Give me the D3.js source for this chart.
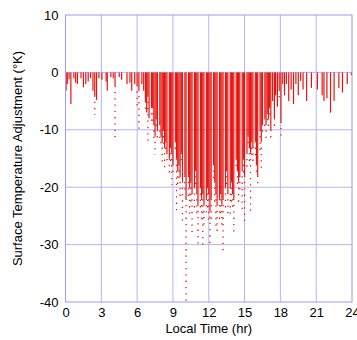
<!DOCTYPE html>
<html>
<head>
<meta charset="utf-8">
<script src="https://cdn.jsdelivr.net/npm/d3@7"></script>
<style>
  body { margin: 0; background: #fff; }
  text { font-family: "Liberation Sans", Arial, sans-serif; }
</style>
</head>
<body>
<svg id="chart" width="357" height="340"></svg>
<script>
// sparse strips before sunrise / after sunset: local time (hr), deepest adjustment (K)
const earlyTime = [0.05, 0.15, 0.3, 0.45, 0.7, 0.85, 1.0, 1.3, 1.5, 1.7, 1.9, 2.1, 2.3, 2.45, 2.6, 2.8, 3.05, 3.4, 3.5, 3.8, 4.0, 4.15, 4.5, 4.7, 5.15, 5.4, 5.55, 5.8, 6.0, 6.15, 6.4, 6.55, 6.7, 6.8, 6.9, 7.0, 7.2];
const earlyMin = [-3.2, -2, -1.2, -5.5, -1, -1.8, -2, -1, -2.6, -2, -1.6, -1, -3.2, -4, -4.8, -1, -1.3, -1.6, -3.2, -0.8, -1, -2.3, -0.8, -1.3, -2, -1.8, -3.2, -2, -2.2, -3, -2, -3.2, -5, -7, -4, -8, -6];
const earlyTail = [null, null, null, null, null, null, null, null, null, null, null, null, null, -7.4, null, null, null, null, null, null, null, -11.4, null, null, null, null, null, null, -6, -10.2, null, null, -6.7, null, -12.6, null, -8.8];

// daytime strips, one per 0.1 hr (null = empty column)
const dayTime = d3.range(73, 171).map(d => d / 10);
const dayMin = [
  -6, -9, -11, -8, -10, null, -9,                      // 7.3 - 7.9
  -11, -12, -10, -13, -12, -14, null, -15, -13, -14,   // 8.x
  -16, null, -12, -15, -17, -16, -18, -14, -19, null,  // 9.x
  -18, -22, null, -18, -20, -19, -21, null, -20, -17,  // 10.x
  -21, -23, null, -20, -22, -21, -23, null, -22, -20,  // 11.x
  -21, -24, -22, null, -16, -19, -21, -23, null, -22,  // 12.x
  -21, -23, -22, null, -20, -17, -21, null, -20, -19,  // 13.x
  -21, -22, null, -15, -17, -19, -18, null, -17, -15,  // 14.x
  -18, null, -14, -11, -13, -14, -12, -13, null, -12,  // 15.x
  -16, -18, null, -10, -12, -9, null, -8, -9, -7,      // 16.x
  -8                                                   // 17.0
];
const dayTail = [
  -9, -12, -14.4, -10, -11.8, null, -12,
  -13, -16, -13, -17, -14, -16, null, -18, -16, -19.6,
  -18, null, -14, -24.5, -20, -19, -22, -16, -26.5, null,
  -21, -40, null, -22, -25, -23, -28, null, -24, -20,
  -25, -30.4, null, -24, -26, -30, -27, null, -25, -24,
  -26, -30.6, -26, null, -19, -23, -27, -28, null, -26,
  -25, -27, -31, null, -24, -20, -25, null, -25, -23,
  -24, -28.5, null, -17, -20, -23, -21, null, -24, -18,
  -26.6, null, -17, -13, -16, -24.3, -15, -16, null, -15,
  -18, -20, null, -14, -16.7, -11, null, -10, -12, -9,
  -10
];

const lateTime = [17.1, 17.2, 17.35, 17.5, 17.6, 17.75, 17.9, 18.05, 18.2, 18.35, 18.5, 18.7, 18.9, 19.1, 19.3, 19.5, 19.7, 19.9, 20.2, 20.6, 21.1, 21.5, 21.65, 21.9, 22.2, 22.5, 22.9, 23.2, 23.6, 23.95];
const lateMin = [-6, -10, -5, -8, -4, -6, -3, -8.6, -2, -4, -2, -5, -3, -5.5, -2, -4, -1.5, -3, -5, -2.7, -3, -4, -5, -4.5, -7, -5, -2.7, -3.5, -2, -0.5];
const lateTail = [-8, -11.5, null, -10, null, null, -5, -11, null, null, null, null, null, null, null, null, null, null, null, null, null, null, null, null, null, null, null, null, null, null];

const xTicks = [0, 3, 6, 9, 12, 15, 18, 21, 24];
const yTicks = [10, 0, -10, -20, -30, -40];

const margin = {left: 65.5, right: 5, top: 15, bottom: 38};
const width = 357, height = 340;

const svg = d3.select('#chart');

const x = d3.scaleLinear().domain([0, 24]).range([margin.left, width - margin.right]);
const y = d3.scaleLinear().domain([-40, 10]).range([height - margin.bottom, margin.top]);

// grid
svg.append('g')
  .selectAll('line')
  .data(xTicks.slice(1, -1))
  .enter().append('line')
  .attr('x1', d => x(d)).attr('x2', d => x(d))
  .attr('y1', y(10)).attr('y2', y(-40))
  .attr('stroke', '#b4b4f4').attr('stroke-width', 1);
svg.append('g')
  .selectAll('line')
  .data(yTicks.slice(1, -1))
  .enter().append('line')
  .attr('x1', x(0)).attr('x2', x(24))
  .attr('y1', d => y(d)).attr('y2', d => y(d))
  .attr('stroke', '#b4b4f4').attr('stroke-width', 1);

// strips
const strips = [];
earlyTime.forEach((t, i) => strips.push({t: t, min: earlyMin[i], tail: earlyTail[i]}));
dayTime.forEach((t, i) => { if (dayMin[i] !== null) strips.push({t: t, min: dayMin[i], tail: dayTail[i]}); });
lateTime.forEach((t, i) => strips.push({t: t, min: lateMin[i], tail: lateTail[i]}));

const red = '#e61410';

svg.append('g')
  .selectAll('line')
  .data(strips.filter(d => d.tail !== null))
  .enter().append('line')
  .attr('x1', d => x(d.t)).attr('x2', d => x(d.t))
  .attr('y1', d => y(d.min)).attr('y2', d => y(d.tail))
  .attr('stroke', red).attr('stroke-width', 1.3)
  .attr('stroke-dasharray', '1.3,5');

svg.append('g')
  .selectAll('line')
  .data(strips)
  .enter().append('line')
  .attr('x1', d => x(d.t)).attr('x2', d => x(d.t))
  .attr('y1', y(0)).attr('y2', d => y(d.min))
  .attr('stroke', red).attr('stroke-width', 1.2);

// frame
svg.append('rect')
  .attr('x', x(0)).attr('y', y(10))
  .attr('width', x(24) - x(0)).attr('height', y(-40) - y(10))
  .attr('fill', 'none').attr('stroke', '#9b9bef').attr('stroke-width', 1);

// axes
const xAxis = svg.append('g')
  .attr('transform', `translate(0,${y(-40)})`)
  .call(d3.axisBottom(x).tickValues(xTicks).tickSize(0).tickPadding(6));
const yAxis = svg.append('g')
  .attr('transform', `translate(${x(0)},0)`)
  .call(d3.axisLeft(y).tickValues(yTicks).tickSize(0).tickFormat(d3.format('d')).tickPadding(7));
[xAxis, yAxis].forEach(a => {
  a.select('.domain').remove();
  a.selectAll('text').attr('font-size', 13).attr('fill', '#000')
    .attr('font-family', '"Liberation Sans", Arial, sans-serif');
});
yAxis.selectAll('text').text(d => d < 0 ? '-' + Math.abs(d) : d);

svg.append('text')
  .attr('x', (x(0) + x(24)) / 2).attr('y', 333)
  .attr('text-anchor', 'middle').attr('font-size', 13)
  .text('Local Time (hr)');

svg.append('text')
  .attr('transform', `translate(22,${(y(10) + y(-40)) / 2}) rotate(-90)`)
  .attr('text-anchor', 'middle').attr('font-size', 13)
  .text('Surface Temperature Adjustment (°K)');
</script>
</body>
</html>
